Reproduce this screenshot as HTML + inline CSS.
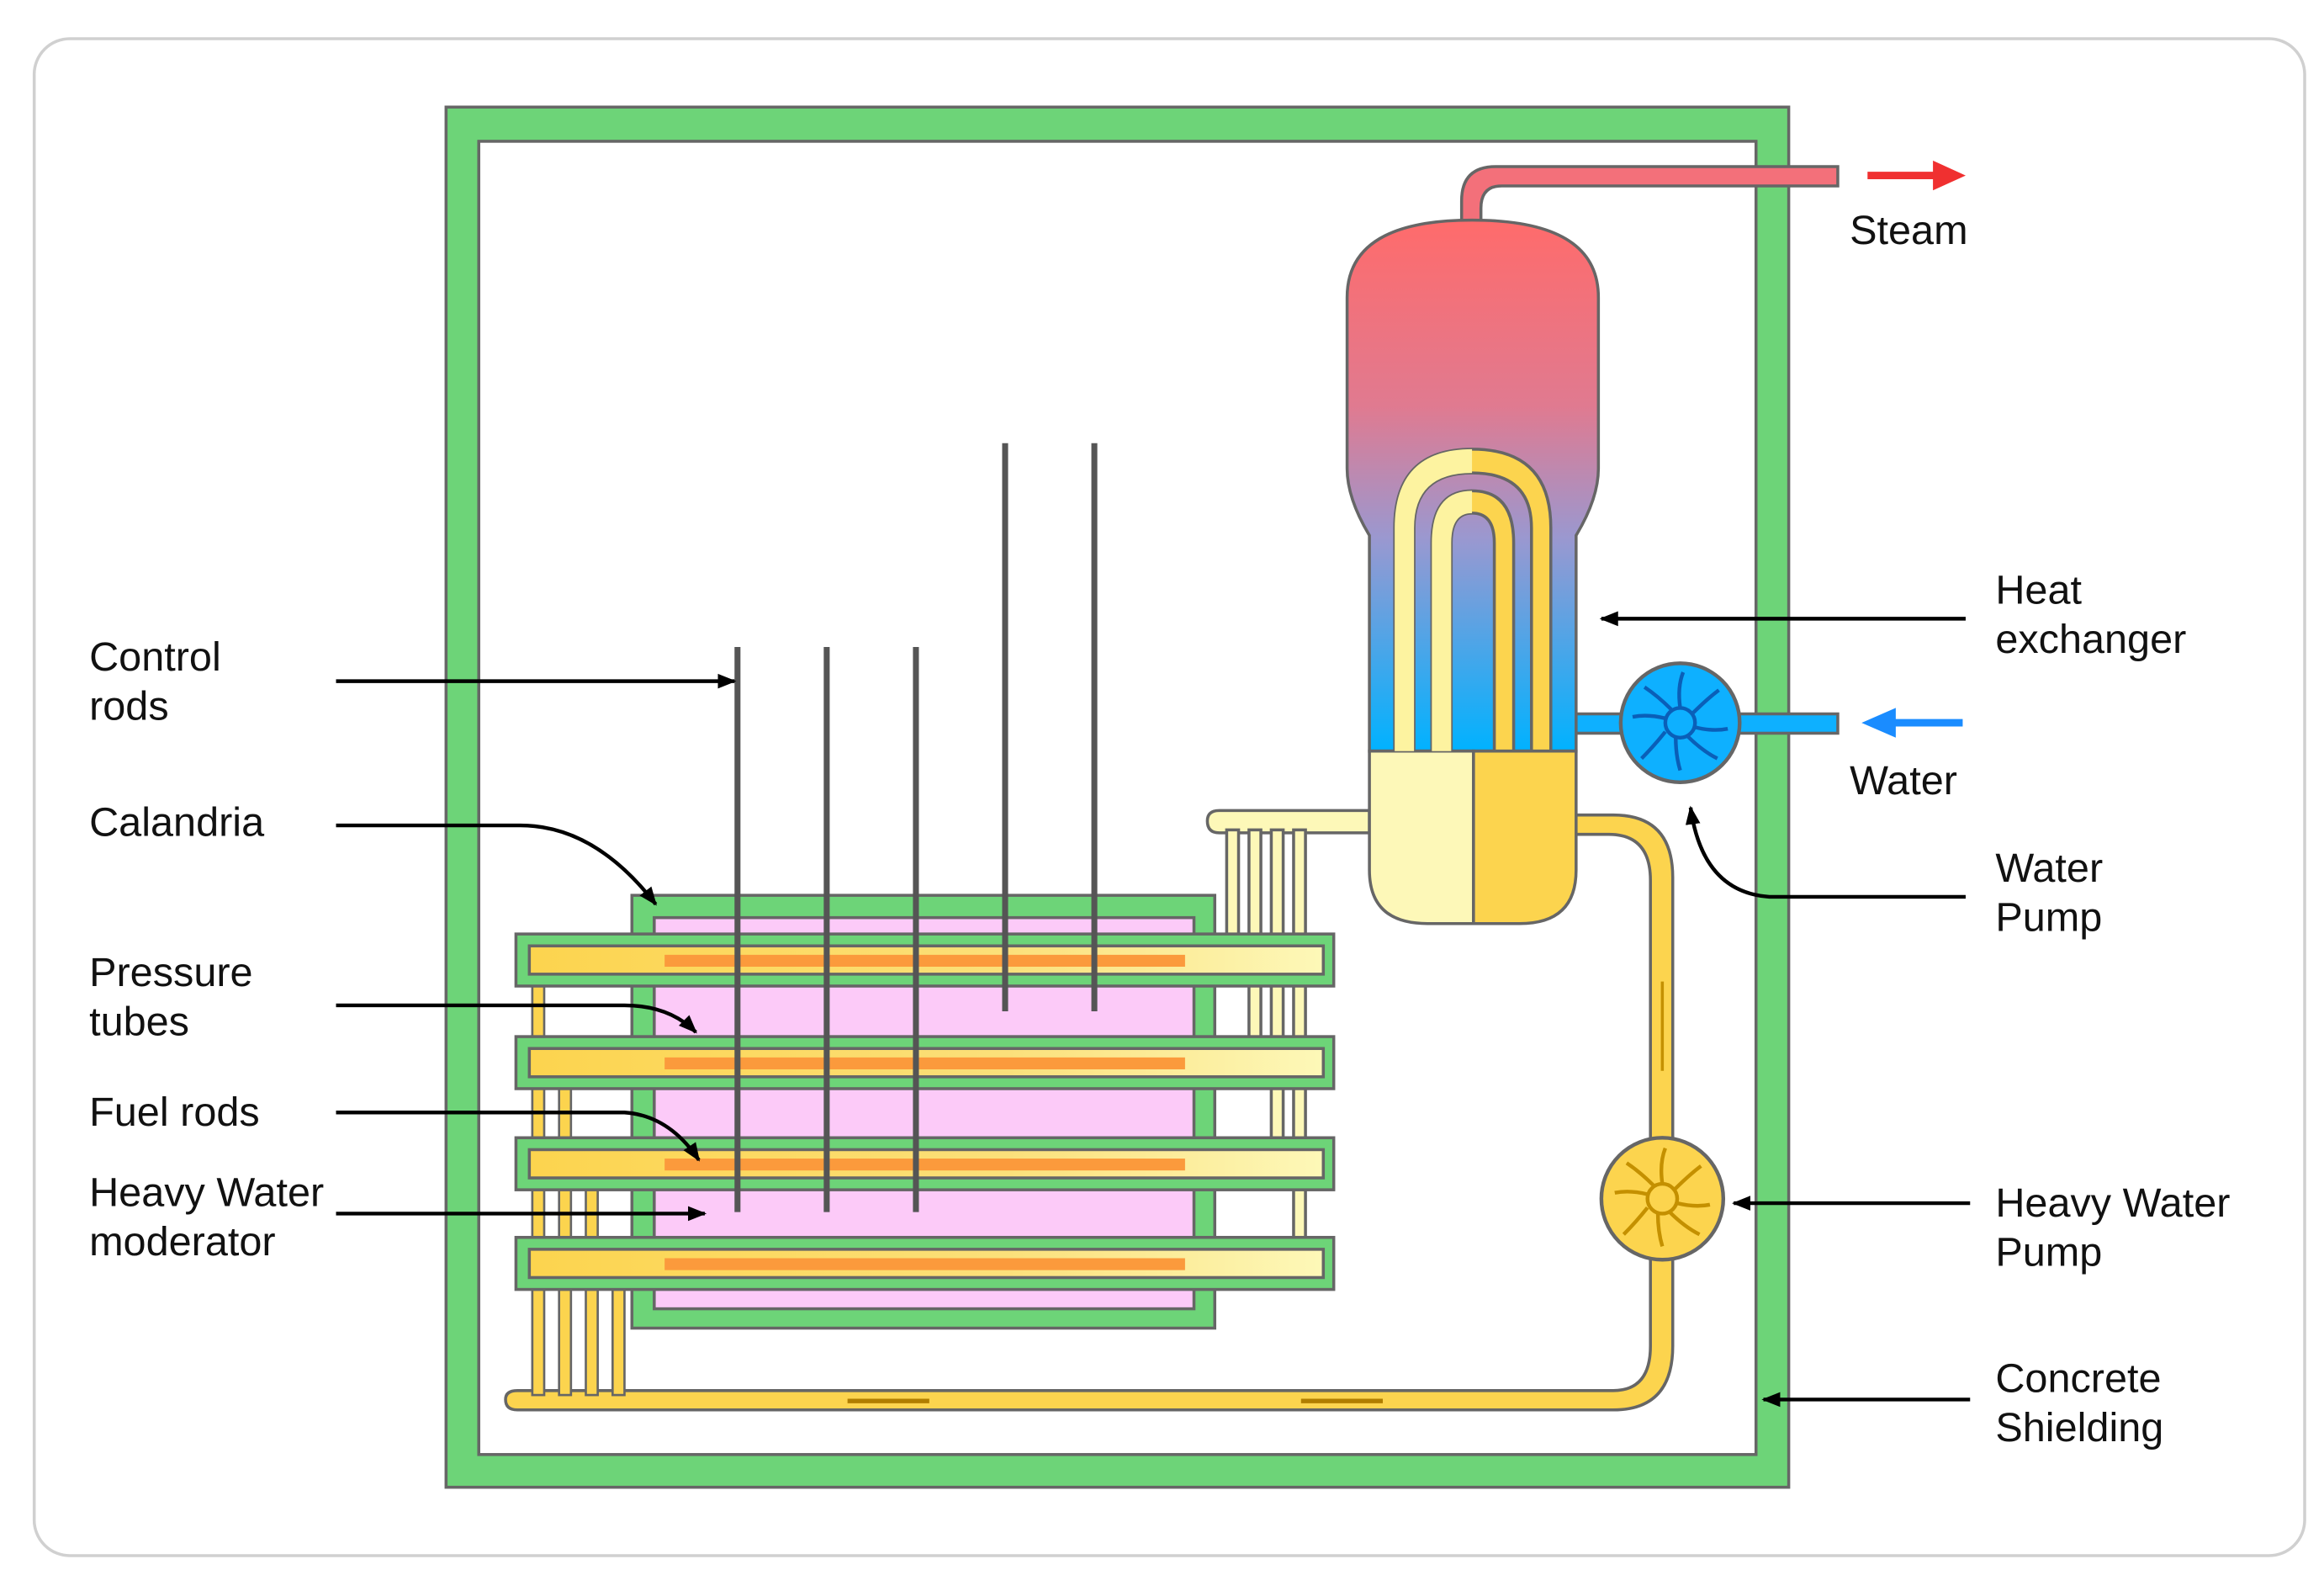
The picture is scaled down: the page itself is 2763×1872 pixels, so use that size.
<!DOCTYPE html>
<html><head><meta charset="utf-8"><style>
html,body{margin:0;padding:0;background:#fff}
svg{display:block}
text{font-family:"Liberation Sans",sans-serif;font-size:27.5px;fill:#111}
</style></head><body>
<svg width="2763" height="1872" viewBox="0 0 1563 1059" preserveAspectRatio="none" xmlns="http://www.w3.org/2000/svg">
<defs>
<linearGradient id="hx" x1="0" y1="0" x2="0" y2="1">
<stop offset="0" stop-color="#ff6b6b"/><stop offset="0.35" stop-color="#e07a90"/><stop offset="0.6" stop-color="#9a98d0"/><stop offset="1" stop-color="#00b2ff"/></linearGradient>
<linearGradient id="pt" x1="0" y1="0" x2="1" y2="0">
<stop offset="0" stop-color="#fcd44e"/><stop offset="0.6" stop-color="#fbe07a"/><stop offset="1" stop-color="#fdf8b8"/></linearGradient>
<marker id="ah" viewBox="0 0 10 10" refX="9" refY="5" markerWidth="5" markerHeight="5" orient="auto"><path d="M0,1 L10,5 L0,9z" fill="#000"/></marker>
</defs>
<rect x="23" y="26" width="1527" height="1020" rx="24" fill="#fff" stroke="#d0d0d0" stroke-width="2"/>
<rect x="300" y="72" width="903" height="928" fill="#6dd478" stroke="#666" stroke-width="2"/>
<rect x="322" y="95" width="859" height="883" fill="#fff" stroke="#666" stroke-width="2"/>
<path d="M983,160 L983,135 Q983,112 1006,112 L1236,112 L1236,125 L1010,125 Q996,125 996,140 L996,160z" fill="#f3707a" stroke="#666" stroke-width="2"/>
<line x1="1256" y1="118" x2="1305" y2="118" stroke="#f03030" stroke-width="5"/>
<path d="M1300,108 L1322,118 L1300,128z" fill="#f03030"/>
<text x="1244" y="164">Steam</text>
<rect x="1055" y="480" width="181" height="13" fill="#0eb0ff" stroke="#666" stroke-width="2"/>
<line x1="1270" y1="486" x2="1320" y2="486" stroke="#1a8cff" stroke-width="5"/>
<path d="M1275,476 L1252,486 L1275,496z" fill="#1a8cff"/>
<path d="M1055,548 L1085,548 Q1125,548 1125,590 L1125,905 Q1125,948 1085,948 L348,948 Q340,948 340,941 Q340,935 348,935 L1085,935 Q1110,935 1110,905 L1110,592 Q1110,561 1082,561 L1055,561z" fill="#fcd44e" stroke="#666" stroke-width="2"/>
<line x1="1118" y1="660" x2="1118" y2="720" stroke="#c49000" stroke-width="2"/>
<line x1="570" y1="942" x2="625" y2="942" stroke="#b07e00" stroke-width="3"/>
<line x1="875" y1="942" x2="930" y2="942" stroke="#b07e00" stroke-width="3"/>
<path d="M921,545 L820,545 Q812,545 812,552 Q812,560 820,560 L921,560z" fill="#fdf8b8" stroke="#666" stroke-width="2"/>
<g fill="#fdf8b8" stroke="#666" stroke-width="2">
<rect x="825" y="558" width="8" height="85"/>
<rect x="840" y="558" width="8" height="155"/>
<rect x="855" y="558" width="8" height="222"/>
<rect x="870" y="558" width="8" height="290"/>
</g>
<path d="M906,200 Q906,148 990,148 Q1075,148 1075,200 L1075,315 Q1075,335 1060,360 L1060,505 L921,505 L921,360 Q906,335 906,315z" fill="url(#hx)" stroke="#666" stroke-width="2"/>
<path d="M921,505 L991,505 L991,621 L960,621 Q921,621 921,585z" fill="#fdf8b8" stroke="#666" stroke-width="2"/>
<path d="M991,505 L1060,505 L1060,585 Q1060,621 1022,621 L991,621z" fill="#fcd44e" stroke="#666" stroke-width="2"/>
<path d="M938,505 L938,355 Q938,302 990,302 Q1043,302 1043,355 L1043,505 L1030,505 L1030,355 Q1030,318 990,318 Q951,318 951,355 L951,505z" fill="#fcd44e" stroke="#666" stroke-width="2"/>
<path d="M938,505 L938,355 Q938,302 990,302 L990,318 Q951,318 951,355 L951,505z" fill="#fdf3a0"/>
<path d="M963,505 L963,365 Q963,330 990,330 Q1018,330 1018,365 L1018,505 L1005,505 L1005,365 Q1005,345 990,345 Q976,345 976,365 L976,505z" fill="#fcd44e" stroke="#666" stroke-width="2"/>
<path d="M963,505 L963,365 Q963,330 990,330 L990,345 Q976,345 976,365 L976,505z" fill="#fdf3a0"/>
<circle cx="1130" cy="486" r="40" fill="#0eb0ff" stroke="#666" stroke-width="2.5"/>
<circle cx="1130" cy="486" r="10" fill="none" stroke="#0a5fb8" stroke-width="2.5"/>
<g stroke="#0a5fb8" stroke-width="2.5" fill="none">
<path d="M1130,476 Q1128,462 1132,452"/><path d="M1138,480 Q1148,470 1156,464"/><path d="M1140,489 Q1152,492 1162,490"/><path d="M1135,495 Q1145,505 1155,510"/><path d="M1127,496 Q1127,508 1130,518"/><path d="M1120,492 Q1112,502 1104,510"/><path d="M1120,483 Q1108,480 1098,482"/><path d="M1124,477 Q1115,468 1106,462"/>
</g>
<circle cx="1118" cy="806" r="41" fill="#fcd44e" stroke="#666" stroke-width="2.5"/>
<circle cx="1118" cy="806" r="10" fill="none" stroke="#c49000" stroke-width="2.5"/>
<g stroke="#c49000" stroke-width="2.5" fill="none">
<path d="M1118,796 Q1116,782 1120,772"/><path d="M1126,800 Q1136,790 1144,784"/><path d="M1128,809 Q1140,812 1150,810"/><path d="M1123,815 Q1133,825 1143,830"/><path d="M1115,816 Q1115,828 1118,838"/><path d="M1108,812 Q1100,822 1092,830"/><path d="M1108,803 Q1096,800 1086,802"/><path d="M1112,797 Q1103,788 1094,782"/>
</g>
<rect x="425" y="602" width="392" height="291" fill="#6dd478" stroke="#666" stroke-width="2"/>
<rect x="440" y="617" width="363" height="263" fill="#fccaf8" stroke="#666" stroke-width="2"/>
<g fill="#fcd44e" stroke="#666" stroke-width="1.5">
<rect x="358" y="648" width="8" height="290"/>
<rect x="376" y="715" width="8" height="223"/>
<rect x="394" y="783" width="8" height="155"/>
<rect x="412" y="850" width="8" height="88"/>
</g>
<g stroke="#666" stroke-width="2">
<rect x="347" y="628" width="550" height="35" fill="#6dd478"/>
<rect x="356" y="636" width="534" height="19" fill="url(#pt)"/>
<rect x="347" y="697" width="550" height="35" fill="#6dd478"/>
<rect x="356" y="705" width="534" height="19" fill="url(#pt)"/>
<rect x="347" y="765" width="550" height="35" fill="#6dd478"/>
<rect x="356" y="773" width="534" height="19" fill="url(#pt)"/>
<rect x="347" y="832" width="550" height="35" fill="#6dd478"/>
<rect x="356" y="840" width="534" height="19" fill="url(#pt)"/>
</g>
<g fill="#fb9a3c">
<rect x="447" y="642" width="350" height="8"/><rect x="447" y="711" width="350" height="8"/><rect x="447" y="779" width="350" height="8"/><rect x="447" y="846" width="350" height="8"/>
</g>
<g stroke="#555" stroke-width="4">
<line x1="496" y1="435" x2="496" y2="815"/><line x1="556" y1="435" x2="556" y2="815"/><line x1="616" y1="435" x2="616" y2="815"/>
<line x1="676" y1="298" x2="676" y2="680"/><line x1="736" y1="298" x2="736" y2="680"/>
</g>
<g stroke="#000" stroke-width="2.5" fill="none" marker-end="url(#ah)">
<path d="M226,458 L494,458"/>
<path d="M226,555 L350,555 Q400,555 441,608"/>
<path d="M226,676 L420,676 Q450,676 468,694"/>
<path d="M226,748 L420,748 Q450,750 470,780"/>
<path d="M226,816 L474,816"/>
<path d="M1322,416 L1077,416"/>
<path d="M1322,603 L1190,603 Q1145,600 1137,543"/>
<path d="M1325,809 L1166,809"/>
<path d="M1325,941 L1186,941"/>
</g>
<text x="60" y="451">Control</text><text x="60" y="484">rods</text>
<text x="60" y="562">Calandria</text>
<text x="60" y="663">Pressure</text><text x="60" y="696">tubes</text>
<text x="60" y="757">Fuel rods</text>
<text x="60" y="811">Heavy Water</text><text x="60" y="844">moderator</text>
<text x="1342" y="406">Heat</text><text x="1342" y="439">exchanger</text>
<text x="1244" y="534">Water</text>
<text x="1342" y="593">Water</text><text x="1342" y="626">Pump</text>
<text x="1342" y="818">Heavy Water</text><text x="1342" y="851">Pump</text>
<text x="1342" y="936">Concrete</text><text x="1342" y="969">Shielding</text>
</svg>
</body></html>
